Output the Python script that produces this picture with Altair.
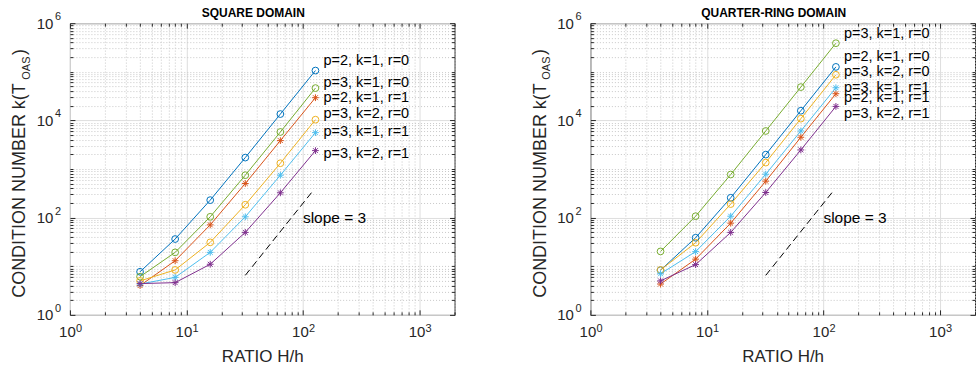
import json
import altair as alt
import pandas as pd

# ---------------- data ----------------
H_RATIO = [4, 8, 16, 32, 64, 128]

SERIES = ["p=2, k=1, r=0", "p=3, k=1, r=0", "p=2, k=1, r=1",
          "p=3, k=2, r=0", "p=3, k=1, r=1", "p=3, k=2, r=1"]
SERIES_COLORS = ["#0072BD", "#77AC30", "#D95319", "#EDB120", "#4DBEEE", "#7E2F8E"]
SERIES_MARKERS = ["o", "o", "*", "o", "*", "*"]

# square domain
SQ_P2K1R0 = [7.7, 36.3, 229, 1718, 13500, 106000]
SQ_P3K1R0 = [6.1, 19.3, 104, 746, 5780, 46200]
SQ_P2K1R1 = [4.0, 13.0, 71, 503, 3840, 29300]
SQ_P3K2R0 = [5.0, 8.4, 31, 184, 1315, 10350]
SQ_P3K1R1 = [4.3, 5.9, 19.3, 104, 746, 5600]
SQ_P3K2R1 = [4.4, 4.6, 11, 49.7, 324, 2390]

# quarter-ring domain
QR_P2K1R0 = [8.3, 38.6, 256, 1980, 15800, 126000]
QR_P3K1R0 = [20.2, 107, 770, 6060, 48400, 387000]
QR_P2K1R1 = [4.3, 14.0, 77, 562, 4500, 35400]
QR_P3K2R0 = [8.4, 30.5, 190, 1357, 10860, 86800]
QR_P3K1R1 = [7.0, 20.0, 107, 782, 6060, 47000]
QR_P3K2R1 = [5.0, 10.8, 49.7, 329, 2470, 19400]

# series label anchors (same order as SERIES)
LABEL_X = 150
SQ_LABEL_Y = [163000, 58500, 28800, 13300, 5690, 2000]
QR_LABEL_Y = [197000, 593000, 29300, 97000, 47000, 13500]

# slope reference line
SLOPE_X = [32, 120]
SLOPE_Y = [6.5, 340]
SLOPE_TEXT = "slope = 3"
SLOPE_TEXT_X = [100]
SLOPE_TEXT_Y = [100]

# axes
X_DOMAIN = [1, 2000]
Y_DOMAIN = [1, 1000000]
X_TICKS = [1, 2, 3, 4, 5, 6, 7, 8, 9,
           10, 20, 30, 40, 50, 60, 70, 80, 90,
           100, 200, 300, 400, 500, 600, 700, 800, 900,
           1000, 2000]
Y_TICKS = [m * 10 ** e for e in range(6) for m in range(1, 10)] + [1000000]
X_MAJOR = [1, 10, 100, 1000]
X_MAJOR_EXP = ["0", "1", "2", "3"]
Y_MAJOR = [1, 100, 10000, 1000000]
Y_MAJOR_EXP = ["0", "2", "4", "6"]
TICK_BASE = "10"

TITLES = ["SQUARE DOMAIN", "QUARTER-RING DOMAIN"]
X_TITLE = "RATIO H/h"
Y_TITLE = "CONDITION NUMBER k(T"
Y_SUB = "OAS"

# ---------------- style ----------------
FONT = "Liberation Sans"
AX = "#262626"
W, H = 385, 292
STAR = "M-1,0L1,0M0,-1L0,1M-0.72,-0.72L0.72,0.72M-0.72,0.72L0.72,-0.72"


def major_test(major):
    return f"indexof({json.dumps(major)}, datum.value) >= 0"


def label_expr(major):
    return f"indexof({json.dumps(major)}, datum.value) >= 0 ? '{TICK_BASE}' : ''"


XS = alt.Scale(type="log", domain=X_DOMAIN, nice=False)
YS = alt.Scale(type="log", domain=Y_DOMAIN, nice=False)

X_MAIN_AXIS = alt.Axis(
    values=X_TICKS, labelExpr=label_expr(X_MAJOR),
    labelOverlap=False, labelFlush=False, labelFont=FONT, labelFontSize=15,
    labelColor=AX, labelPadding=10, labelOffset=-3, ticks=False, domain=False,
    grid=True, gridWidth=1,
    gridColor={"condition": {"test": major_test(X_MAJOR), "value": "#dedede"}, "value": "#c8c8c8"},
    gridDash={"condition": {"test": major_test(X_MAJOR), "value": []}, "value": [1, 2]},
    title=X_TITLE, titleFont=FONT, titleFontSize=17, titleFontWeight="normal",
    titleColor=AX, titleY=47, titleBaseline="alphabetic")

Y_MAIN_AXIS = alt.Axis(
    values=Y_TICKS, labelExpr=label_expr(Y_MAJOR),
    labelOverlap=False, labelFlush=False, labelFont=FONT, labelFontSize=15,
    labelColor=AX, labelPadding=17, ticks=False, domain=False,
    grid=True, gridWidth=1,
    gridColor={"condition": {"test": major_test(Y_MAJOR), "value": "#dedede"}, "value": "#c8c8c8"},
    gridDash={"condition": {"test": major_test(Y_MAJOR), "value": []}, "value": [1, 2]},
    title=Y_TITLE, titleFont=FONT, titleFontSize=18, titleFontWeight="normal",
    titleColor=AX, titleAngle=270, titleX=-45, titleY=167, titleAlign="center",
    titleBaseline="alphabetic")


def tick_axis(orient, offset, ticks, major):
    return alt.Axis(orient=orient, offset=offset, values=ticks, labels=False,
                    domain=False, grid=False, ticks=True, tickColor=AX, tickWidth=1,
                    tickSize={"condition": {"test": major_test(major), "value": 5}, "value": 3},
                    title="")


def panel(values, label_y, title):
    rows = []
    for s, vals in zip(SERIES, values):
        for x, y in zip(H_RATIO, vals):
            rows.append({"series": s, "x": x, "y": y,
                         "marker": SERIES_MARKERS[SERIES.index(s)]})
    df = pd.DataFrame(rows)
    lab = pd.DataFrame({"series": SERIES, "x": [LABEL_X] * len(SERIES), "y": label_y})
    slope = pd.DataFrame({"x": SLOPE_X, "y": SLOPE_Y})
    stext = pd.DataFrame({"x": SLOPE_TEXT_X, "y": SLOPE_TEXT_Y, "t": [SLOPE_TEXT]})
    xexp = pd.DataFrame({"x": X_MAJOR, "e": X_MAJOR_EXP})
    yexp = pd.DataFrame({"y": Y_MAJOR, "e": Y_MAJOR_EXP})

    color = alt.Color("series:N", scale=alt.Scale(domain=SERIES, range=SERIES_COLORS), legend=None)
    shape = alt.Shape("marker:N", scale=alt.Scale(domain=["o", "*"], range=["circle", STAR]), legend=None)

    xq = lambda axis: alt.X("x:Q", scale=XS, axis=axis)
    yq = lambda axis: alt.Y("y:Q", scale=YS, axis=axis)

    lines = alt.Chart(df).mark_line(strokeWidth=1).encode(
        x=xq(X_MAIN_AXIS), y=yq(Y_MAIN_AXIS), color=color, detail="series:N")
    points = alt.Chart(df).mark_point(filled=False, size=46, strokeWidth=1, opacity=1).encode(
        x=xq(None), y=yq(None), color=color, shape=shape)
    labels = alt.Chart(lab).mark_text(align="left", baseline="middle", font=FONT,
                                      fontSize=14.5, color="#000000").encode(
        x=xq(None), y=yq(None), text="series:N")
    sl = alt.Chart(slope).mark_line(color="#000000", strokeWidth=1, strokeDash=[7, 4]).encode(
        x=xq(None), y=yq(None))
    st = alt.Chart(stext).mark_text(align="left", baseline="middle", font=FONT,
                                    fontSize=15.5, color="#000000").encode(
        x=xq(None), y=yq(None), text="t:N")
    xe = alt.Chart(xexp).mark_text(align="left", baseline="alphabetic", font=FONT,
                                   fontSize=11, color=AX, dx=6).encode(
        x=xq(None), y=alt.value(H + 17), text="e:N")
    ye = alt.Chart(yexp).mark_text(align="left", baseline="alphabetic", font=FONT,
                                   fontSize=11, color=AX, dy=-3).encode(
        x=alt.value(-15), y=yq(None), text="e:N")
    ticks_a = alt.Chart(slope).mark_point(opacity=0).encode(
        x=xq(tick_axis("top", -H, X_TICKS, X_MAJOR)),
        y=yq(tick_axis("right", -W, Y_TICKS, Y_MAJOR)))
    ticks_b = alt.Chart(slope).mark_point(opacity=0).encode(
        x=xq(tick_axis("bottom", -H, X_TICKS, X_MAJOR)),
        y=yq(tick_axis("left", -W, Y_TICKS, Y_MAJOR)))
    sub = alt.Chart(pd.DataFrame({"t": [Y_SUB]})).mark_text(
        angle=270, align="center", baseline="alphabetic", font=FONT, fontSize=11,
        color=AX).encode(x=alt.value(-40), y=alt.value(45), text="t:N")
    par = alt.Chart(pd.DataFrame({"t": [")"]})).mark_text(
        angle=270, align="center", baseline="alphabetic", font=FONT, fontSize=18,
        color=AX).encode(x=alt.value(-45), y=alt.value(29), text="t:N")

    return alt.layer(lines, points, labels, sl, st, xe, ye, ticks_a, ticks_b, sub, par).resolve_scale(
        x="independent", y="independent").resolve_axis(
        x="independent", y="independent").properties(
        width=W, height=H,
        title=alt.TitleParams(title, font=FONT, fontSize=12, fontWeight="bold",
                              color="#000000", dx=-9, offset=-9))


left = panel([SQ_P2K1R0, SQ_P3K1R0, SQ_P2K1R1, SQ_P3K2R0, SQ_P3K1R1, SQ_P3K2R1],
             SQ_LABEL_Y, TITLES[0])
right = panel([QR_P2K1R0, QR_P3K1R0, QR_P2K1R1, QR_P3K2R0, QR_P3K1R1, QR_P3K2R1],
              QR_LABEL_Y, TITLES[1])

chart = alt.hconcat(left, right, spacing=136, bounds="flush").properties(
    padding={"left": 10, "top": 6, "right": 1, "bottom": 2},
    background="white",
).configure_view(stroke=AX, strokeWidth=1)

chart.save("out.html", embed_options={"renderer": "svg", "actions": False})
